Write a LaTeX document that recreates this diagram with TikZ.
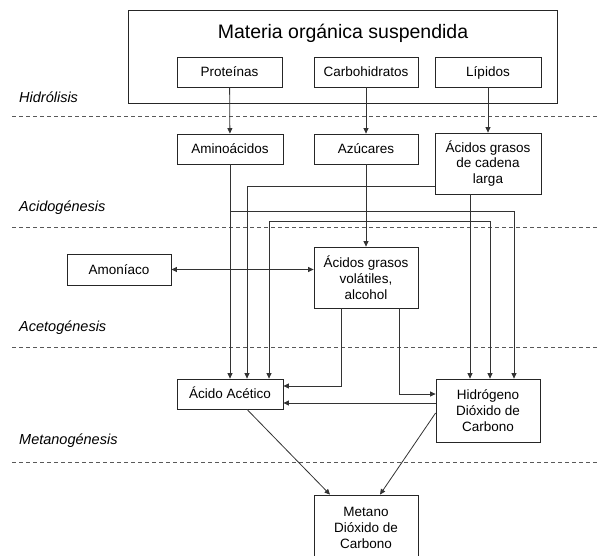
\documentclass[tikz,border=0pt]{standalone}
\usepackage{fontspec}
\setmainfont{Liberation Sans}
\usetikzlibrary{arrows.meta,positioning}

\begin{document}
\begin{tikzpicture}[x=1pt,y=-1pt,
		caja/.style={draw=black!85,line width=0.8pt,minimum width=104pt,minimum height=30pt,inner sep=0pt,align=center,font=\fontsize{13.5}{15.8}\selectfont},
		linea1/.style={caja,text height=12pt,text depth=3pt},
		etapa/.style={anchor=west,inner sep=0pt,font=\fontsize{14.5}{17}\selectfont\itshape},
		linea/.style={draw=black!80,line width=0.8pt},
		flecha/.style={linea,-{Triangle[length=5.5pt,width=5pt]}},
		flechas/.style={linea,{Triangle[length=5.5pt,width=5pt]}-{Triangle[length=5.5pt,width=5pt]}},
		separa/.style={draw=black!65,line width=0.8pt,dash pattern=on 4pt off 3pt}]
		\useasboundingbox (0,0) rectangle (597,556);
		\clip (0,0) rectangle (597,556);
		\node [caja,minimum width=429pt,minimum height=93pt] at (342.5,56.5) (materia) {};
		\node [inner sep=0pt,font=\fontsize{19.5}{22}\selectfont] at (343,33) (titulo) {Materia orgánica suspendida};
		\node [linea1,minimum width=105pt] at (229.5,72) (prot) {Proteínas};
		\node [linea1] at (366,72) (carb) {Carbohidratos};
		\node [linea1,minimum width=106pt] at (488,72) (lip) {Lípidos};
		\node [linea1,minimum width=106pt] at (230,149) (amino) {Aminoácidos};
		\node [linea1] at (366,149) (azu) {Azúcares};
		\node [caja,minimum width=106pt,minimum height=61pt] at (488,163.5) (agcl) {Ácidos grasos\\de cadena\\larga};
		\node [linea1,minimum height=31pt] at (119,269.5) (amon) {Amoníaco};
		\node [caja,minimum height=61pt] at (366,277.5) (agv) {Ácidos grasos\\volátiles,\\alcohol};
		\node [linea1,minimum width=106pt] at (230,394) (acet) {Ácido Acético};
		\node [caja,minimum height=63pt] at (488,410.5) (hid) {Hidrógeno\\Dióxido de\\Carbono};
		\node [caja,minimum height=66pt] at (366,528) (met) {Metano\\Dióxido de\\Carbono};

		\node [etapa] at (19,97) (hidro) {Hidrólisis};
		\node [etapa] at (19,208) (acido) {Acidogénesis};
		\node [etapa] at (19,328) (aceto) {Acetogénesis};
		\node [etapa] at (19,441) (metano) {Metanogénesis};
		\draw [separa] (12,116) -- (597,116) (12,227) -- (597,227)
			(12,347) -- (597,347) (12,462) -- (597,462);

		\coordinate (c1) at (230,211);
		\coordinate (c3) at (366,221);
		\coordinate (h1) at ([yshift=7.5pt]hid.west);
		\draw [flecha] (prot) -- (amino);
		\draw [flecha] (carb) -- (azu);
		\draw [flecha] (lip) -- (agcl);
		\draw [flecha] (amino) -- (acet);
		\draw [flecha] (azu) -- (agv);
		\draw [flecha] (c1) -| ([xshift=26pt]hid.north);
		\draw [flecha] (c3) -| ([xshift=39pt]acet.north);
		\draw [flecha] (c3) -| ([xshift=2pt]hid.north);
		\draw [flecha] ([yshift=-22.5pt]agcl.west) -| ([xshift=17pt]acet.north);
		\draw [flecha] ([xshift=-18pt]agcl.south) -- ([xshift=-18pt]hid.north);
		\draw [flechas] (amon.east) -- (amon.east -| agv.west);
		\draw [flecha] ([xshift=-25pt]agv.south) |- ([yshift=8pt]acet.east);
		\draw [flecha] ([xshift=33pt]agv.south) |- ([yshift=16.5pt]hid.west);
		\draw [flecha] (h1) -- (h1 -| acet.east);
		\draw [flecha] ([xshift=17pt]acet.south) -- ([xshift=-36pt]met.north);
		\draw [flecha] ([yshift=-2.5pt]hid.west) -- ([xshift=14pt]met.north);
	\end{tikzpicture}
\end{document}
